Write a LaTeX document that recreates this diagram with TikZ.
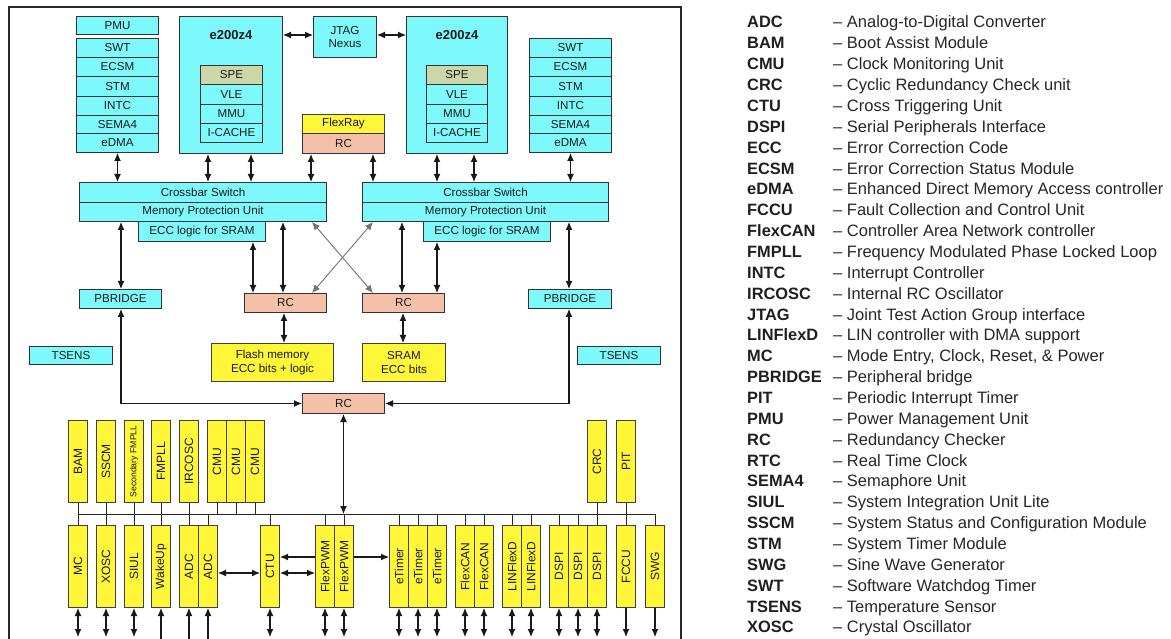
\documentclass[tikz,border=0pt]{standalone}
\usepackage{fontspec}
\usepackage{graphicx}
\setmainfont{Liberation Sans}
\usetikzlibrary{arrows.meta}
\definecolor{cy}{RGB}{125,249,252}
\definecolor{yl}{RGB}{255,246,56}
\definecolor{sal}{RGB}{244,193,168}
\definecolor{spe}{RGB}{205,214,168}
\newcommand{\mbx}[7][]{%
  \pgfmathsetmacro{\mbw}{#5-#3}\pgfmathsetmacro{\mbh}{#6-#4}%
  \node[bx,#1,minimum width=\mbw pt,minimum height=\mbh pt,anchor=north west] (#2) at (#3,#4) {#7};}
\newcommand{\vbx}[5]{\mbx[yb]{#1}{#2}{#3}{#2+19}{#4}{\rotatebox{90}{#5}}}
\newcommand{\leg}[3]{%
  \node[legA] (la#1) at (747,{28+#1*20.86}) {#2};
  \node[legB] (lb#1) at (833,{28+#1*20.86}) {– #3};}
\begin{document}
\begin{tikzpicture}[x=1pt,y=-1pt,
  bx/.style={draw=black!80,line width=1pt,inner sep=0.5pt,align=center,
     font=\fontsize{11.6}{13}\selectfont,text=black!90},
  cyb/.style={fill=cy},
  yb/.style={fill=yl,draw=black!75,font=\fontsize{12}{13}\selectfont},
  rcb/.style={fill=sal},
  speb/.style={fill=spe},
  ttl/.style={font=\bfseries\fontsize{13}{15}\selectfont,text=black!90,inner sep=0pt},
  tip/.tip={Latex[length=8pt,width=7pt]},
  dbl/.style={tip-tip,line width=1.1pt,draw=black!90},
  dblg/.style={tip-tip,line width=0.9pt,draw=black!55},
  one/.style={-tip,line width=1.1pt,draw=black!90},
  eno/.style={tip-,line width=1.1pt,draw=black!90},
  ln/.style={line width=1pt,draw=black!85},
  legA/.style={anchor=base west,font=\bfseries\fontsize{16.4}{18}\selectfont,text=black!88,inner sep=0pt},
  legB/.style={anchor=base west,font=\fontsize{16.5}{18}\selectfont,text=black!85,inner sep=0pt}]
\useasboundingbox (0,0) rectangle (1171,639);
% frame
\draw[line width=1.1pt,draw=black!85] (9,640) -- (9,7) -- (681,7) -- (681,640);
% left column
\mbx[cyb]{pmu}{76}{16}{158}{34}{PMU}
\mbx[cyb]{swtL}{76}{38}{158}{57}{SWT}
\mbx[cyb]{ecsmL}{76}{57}{158}{76}{ECSM}
\mbx[cyb]{stmL}{76}{76}{158}{96}{STM}
\mbx[cyb]{intcL}{76}{96}{158}{115}{INTC}
\mbx[cyb]{semaL}{76}{115}{158}{133}{SEMA4}
\mbx[cyb]{edmaL}{76}{133}{158}{152}{eDMA}
% right column
\mbx[cyb]{swtR}{529}{38}{611}{57}{SWT}
\mbx[cyb]{ecsmR}{529}{57}{611}{76}{ECSM}
\mbx[cyb]{stmR}{529}{76}{611}{96}{STM}
\mbx[cyb]{intcR}{529}{96}{611}{115}{INTC}
\mbx[cyb]{semaR}{529}{115}{611}{133}{SEMA4}
\mbx[cyb]{edmaR}{529}{133}{611}{152}{eDMA}
% cores
\mbx[cyb]{eL}{179}{16}{282}{153}{}
\node[ttl] (tL) at (eL.north |- 0,35) {e200z4};
\mbx[speb]{speL}{200}{65}{262}{84}{SPE}
\mbx[cyb]{vleL}{200}{84}{262}{104}{VLE}
\mbx[cyb]{mmuL}{200}{104}{262}{123}{MMU}
\mbx[cyb]{icL}{200}{123}{262}{142}{I-CACHE}
\mbx[cyb]{eR}{406}{16}{507}{153}{}
\node[ttl] (tR) at (eR.north |- 0,35) {e200z4};
\mbx[speb]{speR}{426}{65}{487}{84}{SPE}
\mbx[cyb]{vleR}{426}{84}{487}{104}{VLE}
\mbx[cyb]{mmuR}{426}{104}{487}{123}{MMU}
\mbx[cyb]{icR}{426}{123}{487}{142}{I-CACHE}
\mbx[cyb]{jtag}{313}{16}{376}{57}{JTAG\\Nexus}
\mbx[yb,font=\fontsize{11.6}{13}\selectfont]{flexray}{302}{114}{384}{133}{FlexRay}
\mbx[rcb]{rcT}{302}{133}{384}{153}{RC}
% crossbars
\mbx[cyb]{xbarL}{79}{182}{326}{202}{Crossbar Switch}
\mbx[cyb]{mpuL}{79}{202}{326}{221}{Memory Protection Unit}
\mbx[cyb]{eccL}{138}{221}{265}{241}{ECC logic for SRAM}
\mbx[cyb]{xbarR}{362}{182}{608}{202}{Crossbar Switch}
\mbx[cyb]{mpuR}{362}{202}{608}{221}{Memory Protection Unit}
\mbx[cyb]{eccR}{423}{221}{550}{241}{ECC logic for SRAM}
% middle
\mbx[rcb]{rcL}{244}{293}{326}{312}{RC}
\mbx[rcb]{rcR}{362}{293}{444}{312}{RC}
\mbx[cyb]{pbL}{79}{289}{161}{308}{PBRIDGE}
\mbx[cyb]{pbR}{528}{289}{611}{308}{PBRIDGE}
\mbx[cyb]{tsL}{29}{346}{112}{364}{TSENS}
\mbx[cyb]{tsR}{577}{346}{660}{364}{TSENS}
\mbx[yb,font=\fontsize{11.6}{14}\selectfont]{flash}{211}{343}{333}{381}{Flash memory\\ECC bits + logic}
\mbx[yb,font=\fontsize{11.6}{14}\selectfont]{sram}{362}{343}{445}{381}{SRAM\\ECC bits}
\mbx[rcb]{rcB}{302}{393}{384}{413}{RC}
% top arrows
\draw[dbl] (edmaL.south) -- (edmaL.south |- xbarL.north);
\draw[dbl] (eL.south -| 208,0) -- (xbarL.north -| 208,0);
\draw[dbl] (eL.south -| 251,0) -- (xbarL.north -| 251,0);
\draw[dbl] (rcT.south -| 311,0) -- (xbarL.north -| 311,0);
\draw[dbl] (rcT.south -| 373,0) -- (xbarR.north -| 373,0);
\draw[dbl] (eR.south -| 437,0) -- (xbarR.north -| 437,0);
\draw[dbl] (eR.south -| 474,0) -- (xbarR.north -| 474,0);
\draw[dbl] (edmaR.south) -- (edmaR.south |- xbarR.north);
\draw[dbl] (eL.east |- 0,35) -- (jtag.west |- 0,35);
\draw[dbl] (jtag.east |- 0,35) -- (eR.west |- 0,35);
% below crossbars
\draw[dbl] (mpuL.south -| 121,0) -- (pbL.north -| 121,0);
\draw[dbl] (eccL.south -| 253,0) -- (rcL.north -| 253,0);
\draw[dbl] (mpuL.south -| 283,0) -- (rcL.north -| 283,0);
\draw[dblg] (mpuL.south -| 312,0) -- (rcR.north -| 373,0);
\draw[dblg] (mpuR.south -| 373,0) -- (rcL.north -| 312,0);
\draw[dbl] (mpuR.south -| 402,0) -- (rcR.north -| 402,0);
\draw[dbl] (eccR.south -| 437,0) -- (rcR.north -| 437,0);
\draw[dbl] (mpuR.south -| 569,0) -- (pbR.north -| 569,0);
\draw[dbl] (rcL.south -| 284,0) -- (flash.north -| 284,0);
\draw[dbl] (rcR.south -| 403,0) -- (sram.north -| 403,0);
\draw[dbl] (pbL.south -| 121,0) |- (rcB.west);
\draw[dbl] (pbR.south -| 569,0) |- (rcB.east);
% peripheral rows
\vbx{bam}{68}{420}{502}{BAM}
\vbx{sscm}{96}{420}{502}{SSCM}
\vbx{sfm}{124}{420}{502}{\fontsize{8.7}{9}\selectfont Secondary FMPLL}
\vbx{fmpll}{151}{420}{502}{FMPLL}
\vbx{ircosc}{179}{420}{502}{IRCOSC}
\vbx{cmuA}{207}{420}{502}{CMU}
\vbx{cmuB}{226}{420}{502}{CMU}
\vbx{cmuC}{245}{420}{502}{CMU}
\vbx{crc}{587}{420}{502}{CRC}
\vbx{pit}{616}{420}{502}{PIT}
\vbx{mc}{68}{525}{607}{MC}
\vbx{xosc}{96}{525}{607}{XOSC}
\vbx{siul}{124}{525}{607}{SIUL}
\vbx{wake}{151}{525}{607}{WakeUp}
\vbx{adcA}{179}{525}{607}{ADC}
\vbx{adcB}{198}{525}{607}{ADC}
\vbx{ctu}{260}{525}{607}{CTU}
\vbx{pwmA}{315}{525}{607}{FlexPWM}
\vbx{pwmB}{334}{525}{607}{FlexPWM}
\vbx{etA}{389}{525}{607}{eTimer}
\vbx{etB}{408}{525}{607}{eTimer}
\vbx{etC}{427}{525}{607}{eTimer}
\vbx{canA}{455}{525}{607}{FlexCAN}
\vbx{canB}{474}{525}{607}{FlexCAN}
\vbx{linA}{502}{525}{607}{LINFlexD}
\vbx{linB}{521}{525}{607}{LINFlexD}
\vbx{dspiA}{549}{525}{607}{DSPI}
\vbx{dspiB}{568}{525}{607}{DSPI}
\vbx{dspiC}{587}{525}{607}{DSPI}
\vbx{fccu}{616}{525}{607}{FCCU}
\vbx{swg}{645}{525}{607}{SWG}
% bus
\coordinate (busL) at (bam.south |- 0,514);
\draw[ln] (busL) -- (busL -| swg.north) -- (swg.north);
\draw[dbl] (rcB.south) -- (rcB.south |- busL);
\foreach \a/\b in {bam/mc,sscm/xosc,sfm/siul,fmpll/wake,ircosc/adcA,crc/dspiC,pit/fccu}
  \draw[ln] (\a.south) -- (\b.north);
\foreach \a in {cmuA,cmuB,cmuC}
  \draw[ln] (\a.south) -- (\a.south |- busL);
\foreach \a in {adcB,ctu,pwmA,pwmB,etA,etB,etC,canA,canB,linA,linB,dspiA,dspiB}
  \draw[ln] (\a.north) -- (\a.north |- busL);
% horizontal arrows
\draw[dbl] (adcB.east |- 0,573) -- (ctu.west |- 0,573);
\draw[dbl] (ctu.east |- 0,573) -- (pwmA.west |- 0,573);
\draw[one] (pwmA.west |- 0,557) -- (ctu.east |- 0,557);
\draw[one] (pwmB.east |- 0,557) -- (etA.west |- 0,557);
% bottom arrows
\foreach \a in {mc,xosc,siul,ctu,pwmA,pwmB,etA,etB,etC,canA,canB,linA,linB,dspiA,dspiB,dspiC}
  \draw[dbl] (\a.south) -- (\a.south |- 0,637);
\foreach \a in {wake,adcA,adcB}
  \draw[eno] (\a.south) -- (\a.south |- 0,641);
\foreach \a in {fccu,swg}
  \draw[one] (\a.south) -- (\a.south |- 0,637);
% legend
\leg{0}{ADC}{Analog-to-Digital Converter}
\leg{1}{BAM}{Boot Assist Module}
\leg{2}{CMU}{Clock Monitoring Unit}
\leg{3}{CRC}{Cyclic Redundancy Check unit}
\leg{4}{CTU}{Cross Triggering Unit}
\leg{5}{DSPI}{Serial Peripherals Interface}
\leg{6}{ECC}{Error Correction Code}
\leg{7}{ECSM}{Error Correction Status Module}
\leg{8}{eDMA}{Enhanced Direct Memory Access controller}
\leg{9}{FCCU}{Fault Collection and Control Unit}
\leg{10}{FlexCAN}{Controller Area Network controller}
\leg{11}{FMPLL}{Frequency Modulated Phase Locked Loop}
\leg{12}{INTC}{Interrupt Controller}
\leg{13}{IRCOSC}{Internal RC Oscillator}
\leg{14}{JTAG}{Joint Test Action Group interface}
\leg{15}{LINFlexD}{LIN controller with DMA support}
\leg{16}{MC}{Mode Entry, Clock, Reset, \& Power}
\leg{17}{PBRIDGE}{Peripheral bridge}
\leg{18}{PIT}{Periodic Interrupt Timer}
\leg{19}{PMU}{Power Management Unit}
\leg{20}{RC}{Redundancy Checker}
\leg{21}{RTC}{Real Time Clock}
\leg{22}{SEMA4}{Semaphore Unit}
\leg{23}{SIUL}{System Integration Unit Lite}
\leg{24}{SSCM}{System Status and Configuration Module}
\leg{25}{STM}{System Timer Module}
\leg{26}{SWG}{Sine Wave Generator}
\leg{27}{SWT}{Software Watchdog Timer}
\leg{28}{TSENS}{Temperature Sensor}
\leg{29}{XOSC}{Crystal Oscillator}
\end{tikzpicture}
\end{document}
